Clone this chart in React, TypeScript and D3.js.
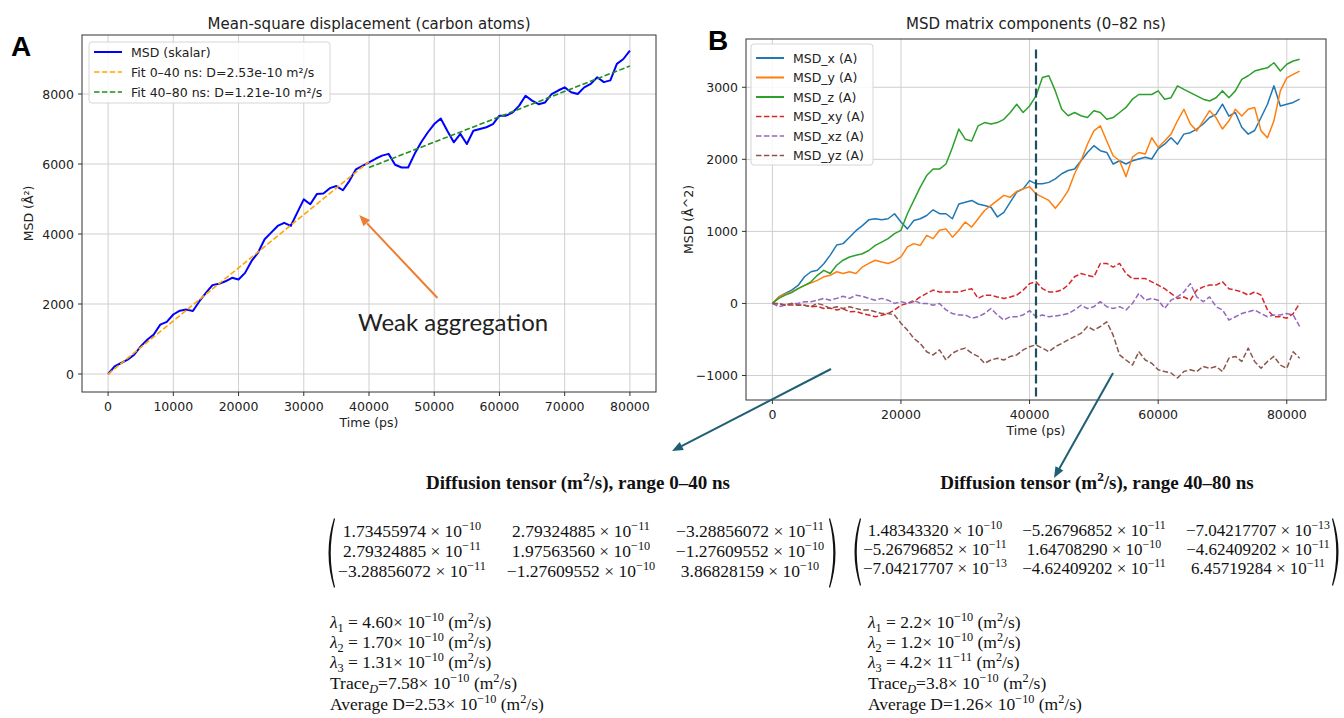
import React from "react";
import * as d3 from "d3";

// ---------- DATA ----------
const STEP_PS = 1000; // sample spacing of every series below

// Panel A: scalar MSD of carbon atoms (Å²), t = 0..80000 ps
const msdScalar = [
  0, 220, 315, 410, 550, 790, 980, 1130, 1410, 1490, 1700, 1810, 1840, 1800, 2080, 2320, 2540, 2580, 2650, 2750,
  2700, 2890, 3230, 3470, 3850, 4040, 4230, 4320, 4230, 4610, 4990, 4850, 5140, 5160, 5310, 5370, 5250, 5520, 5850, 5950,
  6050, 6150, 6240, 6290, 5980, 5900, 5900, 6290, 6620, 6900, 7140, 7300, 6950, 6620, 6860, 6570, 6950, 7000, 7050, 7140,
  7380, 7380, 7470, 7660, 7950, 7810, 7710, 7760, 8000, 8100, 8190, 8050, 8000, 8190, 8290, 8480, 8340, 8390, 8860, 9000,
  9240,
];
const fitEarlyT = [0, 40000];
const fitEarlyV = [0, 6070];
const fitLateT = [40000, 80000];
const fitLateV = [5900, 8800];

// Panel B: MSD matrix components (Å²), t = 0..82000 ps
const msdX = [
  0, 90, 140, 185, 250, 370, 440, 460, 550, 670, 810, 830, 920, 1010, 1080, 1160, 1175, 1160, 1175, 1245,
  1130, 1035, 1150, 1175, 1220, 1300, 1245, 1245, 1175, 1380, 1405, 1430, 1380, 1360, 1335, 1200, 1265, 1405, 1545, 1590,
  1705, 1660, 1660, 1680, 1730, 1800, 1845, 1865, 1980, 2095, 2190, 2120, 2095, 1935, 1980, 1935, 1980, 2005, 2030, 2005,
  2145, 2210, 2300, 2210, 2350, 2370, 2420, 2490, 2580, 2625, 2765, 2600, 2650, 2445, 2350, 2400, 2580, 2765, 3020, 2740,
  2765, 2790, 2835,
];
const msdY = [
  0, 90, 130, 160, 205, 250, 285, 320, 370, 390, 440, 415, 440, 415, 505, 555, 600, 575, 555, 590,
  645, 785, 830, 805, 945, 900, 1015, 1035, 920, 1015, 1130, 1060, 1175, 1290, 1360, 1430, 1500, 1475, 1555, 1590,
  1620, 1520, 1475, 1430, 1320, 1430, 1565, 1800, 1980, 2210, 2395, 2465, 2255, 2050, 1980, 1760, 2030, 2095, 2075, 2300,
  2165, 2255, 2350, 2535, 2695, 2490, 2395, 2535, 2675, 2580, 2420, 2535, 2695, 2600, 2695, 2720, 2395, 2300, 2535, 2950,
  3130, 3180, 3225,
];
const msdZ = [
  0, 70, 115, 150, 205, 250, 300, 390, 460, 415, 530, 600, 645, 670, 690, 735, 805, 850, 900, 970,
  1015, 1245, 1430, 1615, 1775, 1865, 1865, 1935, 2165, 2420, 2280, 2255, 2465, 2510, 2490, 2510, 2555, 2650, 2765, 2650,
  2740, 2880, 3135, 3160, 2950, 2695, 2605, 2650, 2605, 2580, 2675, 2650, 2555, 2580, 2650, 2720, 2835, 2900, 2900, 2900,
  2950, 2835, 2855, 3020, 2970, 2925, 2880, 2835, 2810, 2855, 2950, 2855, 2950, 3110, 3160, 3225, 3250, 3270, 3340, 3225,
  3320, 3365, 3390,
];
const msdXY = [
  0, -10, -20, -20, -20, -25, -45, -40, -70, -65, -90, -75, -115, -110, -140, -160, -185, -165, -140, -90,
  -25, 0, 25, 90, 140, 185, 160, 160, 160, 160, 185, 205, 70, 115, 115, 90, 70, 90, 115, 185,
  275, 300, 205, 160, 160, 185, 255, 370, 415, 390, 370, 555, 555, 505, 555, 415, 345, 345, 345, 300,
  255, 205, 140, 70, 90, 45, 185, 230, 255, 255, 300, 205, 185, 160, 115, 160, 115, -90, -185, -185,
  -205, -140, 0,
];
const msdXZ = [
  0, -45, -25, 0, 0, 25, 25, 45, 70, 45, 70, 100, 70, 115, 100, 70, 45, 70, 45, 0,
  25, 0, 45, 0, 0, -25, 0, -90, -140, -160, -160, -205, -185, -140, -70, -160, -230, -185, -185, -160,
  -100, -185, -160, -185, -175, -160, -140, -90, -25, -70, -45, 25, -45, -70, -45, -90, 0, 140, 45, 70,
  45, -70, 45, 90, 160, 275, 90, 25, 90, -45, -90, -230, -185, -140, -115, -90, -140, -185, -160, -160,
  -140, -160, -320,
];
const msdYZ = [
  0, 0, -25, 0, -25, -25, -45, 0, -25, -70, -45, -70, -45, -70, -90, -90, -115, -140, -140, -160,
  -275, -370, -485, -555, -670, -715, -645, -785, -690, -645, -620, -690, -735, -830, -785, -760, -785, -735, -715, -645,
  -600, -575, -620, -670, -600, -555, -505, -460, -415, -320, -370, -320, -255, -440, -715, -785, -855, -670, -785, -830,
  -920, -945, -965, -1035, -945, -920, -945, -875, -900, -875, -945, -760, -735, -805, -620, -805, -900, -805, -735, -855,
  -900, -670, -760,
];
const splitTime = 41000;
const splitSpan = [-1290, 3545];

// Tick values
const ticksAX = [0, 10000, 20000, 30000, 40000, 50000, 60000, 70000, 80000];
const ticksAY = [0, 2000, 4000, 6000, 8000];
const ticksBX = [0, 20000, 40000, 60000, 80000];
const ticksBY = [-1000, 0, 1000, 2000, 3000];

// Legends
const legendA = [
  { label: "MSD (skalar)", color: "#0000ff", dash: "" },
  { label: "Fit 0–40 ns: D=2.53e-10 m²/s", color: "#ffa500", dash: "5.5 2.4" },
  { label: "Fit 40–80 ns: D=1.21e-10 m²/s", color: "#1f8f1f", dash: "5.5 2.4" },
];
const seriesB = [
  { label: "MSD_x (A)", color: "#1f77b4", dash: "", values: msdX },
  { label: "MSD_y (A)", color: "#ff7f0e", dash: "", values: msdY },
  { label: "MSD_z (A)", color: "#2ca02c", dash: "", values: msdZ },
  { label: "MSD_xy (A)", color: "#d62728", dash: "5.5 2.4", values: msdXY },
  { label: "MSD_xz (A)", color: "#9467bd", dash: "5.5 2.4", values: msdXZ },
  { label: "MSD_yz (A)", color: "#8c564b", dash: "5.5 2.4", values: msdYZ },
];

// Diffusion tensors (m²/s)
const tensorEarly = [
  [1.73455974e-10, 2.79324885e-11, -3.28856072e-11],
  [2.79324885e-11, 1.9756356e-10, -1.27609552e-10],
  [-3.28856072e-11, -1.27609552e-10, 3.86828159e-10],
];
const tensorLate = [
  [1.4834332e-10, -5.26796852e-11, -7.04217707e-13],
  [-5.26796852e-11, 1.6470829e-10, -4.62409202e-11],
  [-7.04217707e-13, -4.62409202e-11, 6.45719284e-11],
];
const eigenEarly = [
  { m: "4.60", base: "10", exp: "−10" },
  { m: "1.70", base: "10", exp: "−10" },
  { m: "1.31", base: "10", exp: "−10" },
];
const traceEarly = { m: "7.58", base: "10", exp: "−10" };
const avgEarly = { m: "2.53", base: "10", exp: "−10" };
const eigenLate = [
  { m: "2.2", base: "10", exp: "−10" },
  { m: "1.2", base: "10", exp: "−10" },
  { m: "4.2", base: "11", exp: "−11" },
];
const traceLate = { m: "3.8", base: "10", exp: "−10" };
const avgLate = { m: "1.26", base: "10", exp: "−10" };

// ---------- HELPERS ----------
const SANS = "'DejaVu Sans', sans-serif";
const SERIF = "'Liberation Serif', 'Times New Roman', serif";
const fmtTick = (v: number) => (v < 0 ? "−" + Math.abs(v) : String(v));

type Seg = { t: string; sup?: boolean; sub?: boolean; it?: boolean };

function Rich({ x, y, segs, size, anchor = "start", weight = "normal" }: any) {
  let shift = 0;
  const kids = segs.map((s: Seg, i: number) => {
    const target = s.sup ? -0.4 * size : s.sub ? 0.22 * size : 0;
    const dy = target - shift;
    shift = target;
    return (
      <tspan key={i} dy={dy} fontSize={s.sup || s.sub ? size * 0.7 : size} fontStyle={s.it ? "italic" : undefined}>
        {s.t}
      </tspan>
    );
  });
  return (
    <text x={x} y={y} fontSize={size} textAnchor={anchor} fontWeight={weight} fontFamily={SERIF} fill="#111" style={{ whiteSpace: "pre" }}>
      {kids}
    </text>
  );
}

function sciSegs(v: number): Seg[] {
  const e = Math.floor(Math.log10(Math.abs(v)));
  const m = v / Math.pow(10, e);
  const ms = (m < 0 ? "−" : "") + Math.abs(m).toFixed(8);
  return [{ t: ms + " × 10" }, { t: "−" + Math.abs(e), sup: true }];
}

function valSegs(lead: Seg[], val: { m: string; base: string; exp: string }): Seg[] {
  return [...lead, { t: val.m + "× " + val.base }, { t: val.exp, sup: true }, { t: " (m" }, { t: "2", sup: true }, { t: "/s)" }];
}

function arrowHead(x1: number, y1: number, x2: number, y2: number, len: number, w: number) {
  const a = Math.atan2(y2 - y1, x2 - x1);
  const bx = x2 - len * Math.cos(a);
  const by = y2 - len * Math.sin(a);
  const px = -Math.sin(a) * (w / 2);
  const py = Math.cos(a) * (w / 2);
  return `${x2},${y2} ${bx + px},${by + py} ${bx - px},${by - py}`;
}

function Frame({ box, xs, ys, xticks, yticks, xlabel, ylabel, ylabelX, title }: any) {
  return (
    <g fontFamily={SANS} fill="#222">
      {xticks.map((t: number) => (
        <line key={"gx" + t} x1={xs(t)} x2={xs(t)} y1={box.top} y2={box.bottom} stroke="#cfcfcf" strokeWidth={1} />
      ))}
      {yticks.map((t: number) => (
        <line key={"gy" + t} x1={box.left} x2={box.right} y1={ys(t)} y2={ys(t)} stroke="#cfcfcf" strokeWidth={1} />
      ))}
      {xticks.map((t: number) => (
        <g key={"tx" + t}>
          <line x1={xs(t)} x2={xs(t)} y1={box.bottom} y2={box.bottom + 4} stroke="#333" />
          <text x={xs(t)} y={box.bottom + 18.5} fontSize={12.5} textAnchor="middle">
            {fmtTick(t)}
          </text>
        </g>
      ))}
      {yticks.map((t: number) => (
        <g key={"ty" + t}>
          <line x1={box.left - 4} x2={box.left} y1={ys(t)} y2={ys(t)} stroke="#333" />
          <text x={box.left - 8} y={ys(t) + 4.5} fontSize={12.5} textAnchor="end">
            {fmtTick(t)}
          </text>
        </g>
      ))}
      <text x={(box.left + box.right) / 2} y={box.bottom + 35} fontSize={12.5} textAnchor="middle">
        {xlabel}
      </text>
      <text
        transform={`translate(${ylabelX},${(box.top + box.bottom) / 2}) rotate(-90)`}
        fontSize={12.5}
        textAnchor="middle"
        dy={4.5}
      >
        {ylabel}
      </text>
      <text x={(box.left + box.right) / 2} y={29} fontSize={15} textAnchor="middle">
        {title}
      </text>
    </g>
  );
}

function Legend({ x, y, w, h, rows, rowStart, rowStep }: any) {
  return (
    <g fontFamily={SANS}>
      <rect x={x} y={y} width={w} height={h} rx={3} fill="white" fillOpacity={0.85} stroke="#d6d6d6" />
      {rows.map((r: any, i: number) => {
        const cy = y + rowStart + i * rowStep;
        return (
          <g key={r.label}>
            <line x1={x + 5} x2={x + 33} y1={cy} y2={cy} stroke={r.color} strokeWidth={r.dash ? 1.6 : 2} strokeDasharray={r.dash} />
            <text x={x + 42} y={cy + 4.5} fontSize={12.5} fill="#222">
              {r.label}
            </text>
          </g>
        );
      })}
    </g>
  );
}

function Paren({ x, top, bot, right }: any) {
  const mid = (top + bot) / 2;
  if (!right) {
    return <path d={`M${x + 8},${top} Q${x - 3},${mid} ${x + 8},${bot} L${x + 9},${bot - 1} Q${x + 0.5},${mid} ${x + 9},${top + 1} Z`} fill="#111" />;
  }
  return <path d={`M${x - 8},${top} Q${x + 3},${mid} ${x - 8},${bot} L${x - 9},${bot - 1} Q${x - 0.5},${mid} ${x - 9},${top + 1} Z`} fill="#111" />;
}

function TensorBlock({ title, tensor, eig, trace, avg, cfg }: any) {
  return (
    <g>
      <Rich x={cfg.titleX} y={cfg.titleY} size={19} anchor="middle" weight="bold"
        segs={[{ t: "Diffusion tensor (m" }, { t: "2", sup: true }, { t: "/s), range " + title }]} />
      <Paren x={cfg.parenL} top={cfg.parenTop} bot={cfg.parenBot} />
      <Paren x={cfg.parenR} top={cfg.parenTop} bot={cfg.parenBot} right />
      {tensor.map((row: number[], r: number) =>
        row.map((v: number, c: number) => (
          <Rich key={r + "-" + c} x={cfg.cols[c]} y={cfg.rows[r]} size={cfg.mSize} anchor="middle" segs={sciSegs(v)} />
        ))
      )}
      {eig.map((e: any, i: number) => (
        <Rich key={"l" + i} x={cfg.textX} y={cfg.lineY[i]} size={17.5}
          segs={valSegs([{ t: "λ", it: true }, { t: String(i + 1), sub: true }, { t: " = " }], e)} />
      ))}
      <Rich x={cfg.textX} y={cfg.lineY[3]} size={17.5} segs={valSegs([{ t: "Trace" }, { t: "D", sub: true, it: true }, { t: "=" }], trace)} />
      <Rich x={cfg.textX} y={cfg.lineY[4]} size={17.5} segs={valSegs([{ t: "Average D=" }], avg)} />
    </g>
  );
}

export default function App() {
  const W = 1344;
  const H = 718;

  const boxA = { left: 82, right: 656, top: 35, bottom: 392 };
  const xA = d3.scaleLinear().domain([-4000, 84000]).range([boxA.left, boxA.right]);
  const yA = d3.scaleLinear().domain([-514, 9686]).range([boxA.bottom, boxA.top]);

  const boxB = { left: 746, right: 1326, top: 39, bottom: 400 };
  const xB = d3.scaleLinear().domain([-4100, 86100]).range([boxB.left, boxB.right]);
  const yB = d3.scaleLinear().domain([-1340, 3670]).range([boxB.bottom, boxB.top]);

  const lineA = d3.line<number>().x((_, i) => xA(i * STEP_PS)).y((d) => yA(d));
  const lineB = d3.line<number>().x((_, i) => xB(i * STEP_PS)).y((d) => yB(d));
  const fitLine = (ts: number[], vs: number[]) =>
    d3.line<number>().x((_, i) => xA(ts[i])).y((d) => yA(d))(vs) || "";

  // annotation in panel A data space
  const annTail = [50500, 2170];
  const annTip = [38500, 4540];
  const annText = [38300, 1230];
  const ax1 = xA(annTail[0]), ay1 = yA(annTail[1]), ax2 = xA(annTip[0]), ay2 = yA(annTip[1]);

  // figure-level teal arrows (page coords)
  const tealArrows = [
    [831, 369, 672, 451],
    [1113, 373, 1054, 478],
  ];

  const cfgEarly = {
    titleX: 578, titleY: 489,
    parenL: 326, parenR: 838, parenTop: 518, parenBot: 588,
    cols: [412, 581, 750], rows: [537, 557, 577], mSize: 17.5,
    textX: 330, lineY: [628, 648, 668, 689, 710],
  };
  const cfgLate = {
    titleX: 1097, titleY: 489,
    parenL: 852, parenR: 1341, parenTop: 518, parenBot: 586,
    cols: [935, 1094, 1258], rows: [536, 555, 574], mSize: 17,
    textX: 868, lineY: [628, 648, 668, 689, 710],
  };

  return (
    <svg width={W} height={H} style={{ position: "absolute", left: 0, top: 0, background: "white" }}>
      <defs>
        <clipPath id="clipA">
          <rect x={boxA.left} y={boxA.top} width={boxA.right - boxA.left} height={boxA.bottom - boxA.top} />
        </clipPath>
        <clipPath id="clipB">
          <rect x={boxB.left} y={boxB.top} width={boxB.right - boxB.left} height={boxB.bottom - boxB.top} />
        </clipPath>
      </defs>
      <rect x={0} y={0} width={W} height={H} fill="white" />

      {/* Panel A */}
      <Frame box={boxA} xs={xA} ys={yA} xticks={ticksAX} yticks={ticksAY} xlabel="Time (ps)" ylabel="MSD (Å²)" ylabelX={28}
        title="Mean-square displacement (carbon atoms)" />
      <g clipPath="url(#clipA)" fill="none">
        <path d={lineA(msdScalar) || ""} stroke="#0000ff" strokeWidth={2} strokeLinejoin="round" />
        <path d={fitLine(fitEarlyT, fitEarlyV)} stroke="#ffa500" strokeWidth={1.6} strokeDasharray="5.5 2.4" />
        <path d={fitLine(fitLateT, fitLateV)} stroke="#1f8f1f" strokeWidth={1.6} strokeDasharray="5.5 2.4" />
      </g>
      <rect x={boxA.left} y={boxA.top} width={boxA.right - boxA.left} height={boxA.bottom - boxA.top} fill="none" stroke="#333" />
      <Legend x={89} y={42} w={241} h={61} rows={legendA} rowStart={10} rowStep={20} />
      <line x1={ax1} y1={ay1} x2={ax2 + (ax1 - ax2) * 0.1} y2={ay2 + (ay1 - ay2) * 0.1} stroke="#ed7d31" strokeWidth={2} />
      <polygon points={arrowHead(ax1, ay1, ax2, ay2, 11, 9)} fill="#ed7d31" />
      <text x={xA(annText[0])} y={yA(annText[1])} fontSize={24} fontFamily="Lato, 'Open Sans', sans-serif" fill="#222">
        Weak aggregation
      </text>
      <text x={11} y={56} fontSize={28} fontWeight="bold" fontFamily="'Liberation Sans', Arial, sans-serif" fill="#000">A</text>

      {/* Panel B */}
      <Frame box={boxB} xs={xB} ys={yB} xticks={ticksBX} yticks={ticksBY} xlabel="Time (ps)" ylabel="MSD (Å^2)" ylabelX={688}
        title="MSD matrix components (0–82 ns)" />
      <g clipPath="url(#clipB)" fill="none">
        {seriesB.map((s) => (
          <path key={s.label} d={lineB(s.values) || ""} stroke={s.color} strokeWidth={1.5} strokeDasharray={s.dash} strokeLinejoin="round" />
        ))}
        <line x1={xB(splitTime)} x2={xB(splitTime)} y1={yB(splitSpan[0])} y2={yB(splitSpan[1])} stroke="#1f4e60" strokeWidth={2.2} strokeDasharray="9 4" />
      </g>
      <rect x={boxB.left} y={boxB.top} width={boxB.right - boxB.left} height={boxB.bottom - boxB.top} fill="none" stroke="#333" />
      <Legend x={751} y={44} w={122} h={121} rows={seriesB} rowStart={14} rowStep={19.5} />
      <text x={708} y={50} fontSize={28} fontWeight="bold" fontFamily="'Liberation Sans', Arial, sans-serif" fill="#000">B</text>

      {/* teal arrows */}
      {tealArrows.map(([x1, y1, x2, y2], i) => (
        <g key={"ta" + i}>
          <line x1={x1} y1={y1} x2={x2 + (x1 - x2) * 0.06} y2={y2 + (y1 - y2) * 0.06} stroke="#1f5f74" strokeWidth={2} />
          <polygon points={arrowHead(x1, y1, x2, y2, 11, 9)} fill="#1f5f74" />
        </g>
      ))}

      {/* Tensor blocks */}
      <TensorBlock title="0–40 ns" tensor={tensorEarly} eig={eigenEarly} trace={traceEarly} avg={avgEarly} cfg={cfgEarly} />
      <TensorBlock title="40–80 ns" tensor={tensorLate} eig={eigenLate} trace={traceLate} avg={avgLate} cfg={cfgLate} />
    </svg>
  );
}
